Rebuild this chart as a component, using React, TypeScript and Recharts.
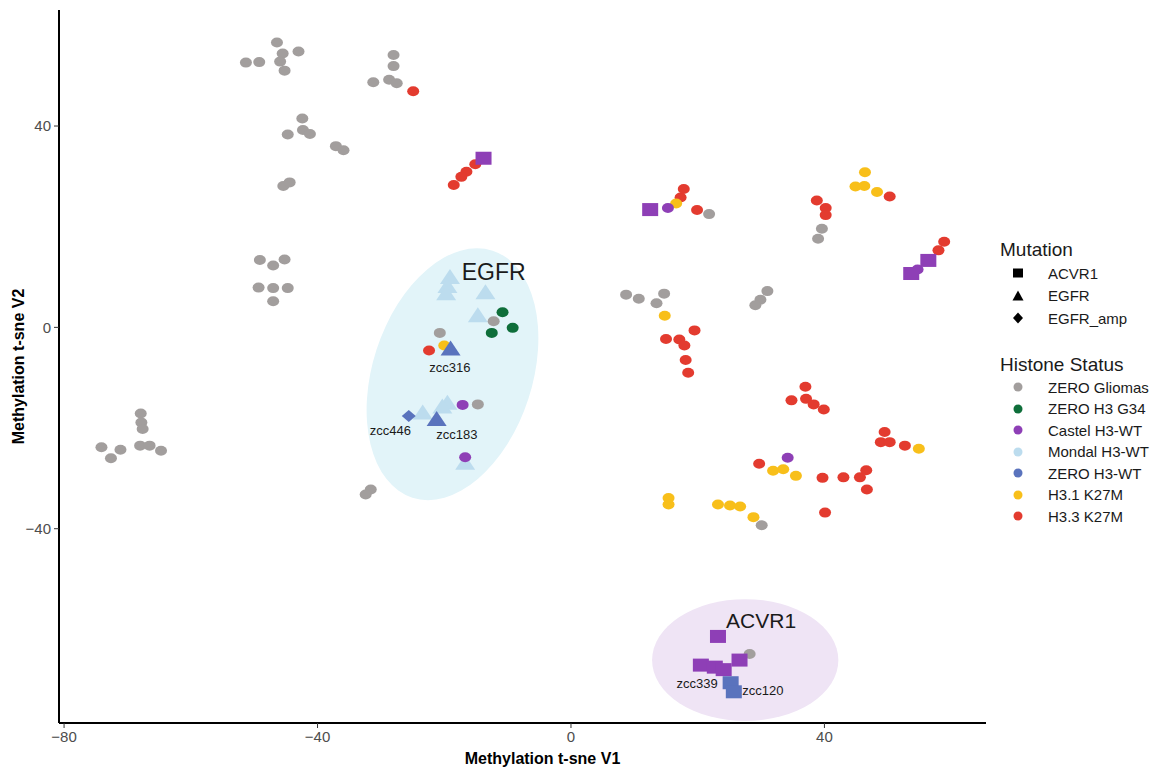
import { ScatterChart, Scatter, XAxis, YAxis } from "recharts"

if (typeof document !== "undefined") document.body.style.margin = "0"

const FONT = '"Liberation Sans", Arial, Helvetica, sans-serif'

// ─── axes ────────────────────────────────────────────────────────────────────
const X_DOMAIN = [-80.8, 65.5]
const Y_DOMAIN = [-78.6, 63.05]
const X_TICKS = [-80, -40, 0, 40]
const Y_TICKS = [-40, 0, 40]

// ─── data: [V1, V2] ─────────────────────────────────────────────────────────
const zeroGliomas = [
  [-46.4, 56.6], [-45.5, 54.4], [-43.0, 54.8], [-51.3, 52.6], [-49.2, 52.7], [-45.9, 52.8], [-45.2, 51.0],
  [-28.0, 54.1], [-28.0, 51.9], [-31.2, 48.7], [-28.7, 49.2], [-27.5, 48.5],
  [-42.4, 41.5], [-44.7, 38.3], [-42.3, 39.2], [-41.2, 38.4], [-37.1, 36.0], [-35.9, 35.2],
  [-45.4, 28.1], [-44.4, 28.8],
  [-49.1, 13.4], [-47.0, 12.3], [-45.2, 13.5], [-49.3, 7.9], [-47.0, 7.8], [-44.7, 7.8], [-47.0, 5.2],
  [-67.9, -17.1], [-67.8, -18.9], [-67.6, -20.2], [-74.1, -23.8], [-71.1, -24.3], [-72.6, -26.0],
  [-68.0, -23.5], [-66.5, -23.5], [-64.7, -24.5],
  [-12.2, 1.2], [-20.7, -1.1], [-14.7, -15.3], [-31.6, -32.2], [-32.4, -33.2],
  [21.8, 22.5], [39.6, 19.6], [39.0, 17.6], [8.7, 6.5], [10.7, 5.7], [14.7, 6.7], [13.5, 4.8],
  [31.0, 7.2], [29.9, 5.5], [29.1, 4.4], [30.1, -39.3], [28.2, -64.9],
]
const zeroG34 = [[-10.8, 3.0], [-12.5, -1.1], [-9.2, -0.1]]
const castelCircles = [[15.3, 23.7], [54.7, 11.5], [-17.1, -15.4], [-16.7, -25.8], [34.2, -25.9]]
const castelAcvr1 = [
  [-13.8, 33.6], [12.5, 23.4], [56.4, 13.3], [53.7, 10.7],
  [23.2, -61.4], [26.6, -66.1], [20.5, -67.1], [22.7, -67.5], [24.1, -68.0],
]
const mondalEgfr = [
  [-19.1, 9.8], [-19.5, 8.0], [-19.7, 6.6], [-13.5, 6.8], [-14.7, 2.2],
  [-19.5, -15.2], [-20.3, -15.9], [-23.4, -17.1], [-16.7, -27.1],
]
const zeroWtEgfr = [[-19.0, -4.4], [-21.2, -18.4]]
const zeroWtEgfrAmp = [[-25.6, -17.6]]
const zeroWtAcvr1 = [[25.2, -70.6], [25.7, -72.4]]
const h31 = [
  [-20.0, -3.6], [16.6, 24.6], [46.4, 30.8], [44.9, 28.0], [46.3, 28.1], [48.3, 26.9], [14.8, 2.3],
  [54.9, -24.1], [31.9, -28.5], [33.5, -28.2], [35.5, -29.5], [15.4, -33.9], [15.4, -35.2],
  [23.2, -35.2], [25.1, -35.4], [26.7, -35.6], [28.8, -37.7],
]
const h33 = [
  [-24.9, 46.9], [-15.1, 32.4], [-16.5, 30.9], [-17.3, 29.9], [-18.5, 28.3], [-22.4, -4.6],
  [17.3, 25.8], [17.8, 27.5], [19.9, 23.3], [50.3, 26.0], [38.8, 25.2], [40.2, 23.7], [40.2, 22.3],
  [58.9, 17.0], [58.0, 15.3], [19.5, -0.6], [15.0, -2.3], [17.1, -2.4], [17.9, -3.6], [18.1, -6.5],
  [18.5, -9.0], [37.0, -11.8], [34.8, -14.5], [37.1, -14.2], [38.3, -15.3], [39.9, -16.3],
  [49.5, -20.8], [48.9, -22.8], [50.3, -22.8], [52.7, -23.5], [29.7, -27.1], [39.7, -29.9],
  [43.0, -29.8], [45.6, -29.8], [46.6, -28.4], [46.7, -32.2], [40.1, -36.8],
]

// annotations (data units)
const sampleLabels = [
  { x: -19.1, y: -7.9, label: "zcc316", size: 13 },
  { x: -18.0, y: -21.2, label: "zcc183", size: 13 },
  { x: -28.5, y: -20.4, label: "zcc446", size: 13 },
  { x: 19.9, y: -70.7, label: "zcc339", size: 13 },
  { x: 30.3, y: -72.1, label: "zcc120", size: 13 },
]
const groupLabels = [
  { x: -12.2, y: 11.0, label: "EGFR", size: 23 },
  { x: 30.0, y: -58.3, label: "ACVR1", size: 21 },
]
const clusterEllipses = [
  { x: -18.7, y: -9.3, rx: 12.6, ry: 25.8, angle: 18, fill: "#e2f4f9" },
  { x: 27.5, y: -66.1, rx: 14.7, ry: 12.1, angle: 0, fill: "#efe4f5" },
]

const COLORS = {
  gray: "#a29e9d",
  green: "#0e6e3a",
  purple: "#8e3fb6",
  light: "#bcdcee",
  blue: "#5a73bd",
  yellow: "#f8bf1a",
  red: "#e33b2f",
}

// chart geometry
const W = 1160
const H = 767
const MARGIN = { top: 10, right: 174, bottom: 0, left: 0 }
const Y_AXIS_W = 59
const X_AXIS_H = 44
const PLOT_W = W - MARGIN.right - Y_AXIS_W
const PLOT_H = H - MARGIN.top - X_AXIS_H
const PX_X = PLOT_W / (X_DOMAIN[1] - X_DOMAIN[0])
const PX_Y = PLOT_H / (Y_DOMAIN[1] - Y_DOMAIN[0])

const toPts = (arr: number[][]) => arr.map(([x, y]) => ({ x, y }))

const circle = (fill: string) => (p: any) => (
  <ellipse cx={p.cx} cy={p.cy} rx={6} ry={5} fill={fill} />
)
const square = (fill: string) => (p: any) => (
  <rect x={p.cx - 8} y={p.cy - 6.5} width={16} height={13} fill={fill} />
)
const triangle = (fill: string) => (p: any) => (
  <polygon
    points={`${p.cx},${p.cy - 9} ${p.cx + 10},${p.cy + 6} ${p.cx - 10},${p.cy + 6}`}
    fill={fill}
  />
)
const diamond = (fill: string) => (p: any) => (
  <polygon
    points={`${p.cx},${p.cy - 6} ${p.cx + 7},${p.cy} ${p.cx},${p.cy + 6} ${p.cx - 7},${p.cy}`}
    fill={fill}
  />
)

const ellipseShape = (p: any) => {
  const e = p.payload
  return (
    <ellipse
      cx={p.cx}
      cy={p.cy}
      rx={e.rx * PX_X}
      ry={e.ry * PX_Y}
      fill={e.fill}
      transform={`rotate(${e.angle} ${p.cx} ${p.cy})`}
    />
  )
}

const textShape = (p: any) => (
  <text
    x={p.cx}
    y={p.cy}
    textAnchor="middle"
    dominantBaseline="central"
    fontSize={p.payload.size}
    fontFamily={FONT}
    fill="#1a1a1a"
  >
    {p.payload.label}
  </text>
)

const fmtTick = (v: number) => (v < 0 ? `\u2212${Math.abs(v)}` : `${v}`)

const TICK_STYLE = { fontSize: 15, fill: "#4d4d4d", fontFamily: FONT }

// ─── legend ──────────────────────────────────────────────────────────────────
const MUTATIONS = [
  { name: "ACVR1", shape: "square" },
  { name: "EGFR", shape: "triangle" },
  { name: "EGFR_amp", shape: "diamond" },
]
const HISTONE = [
  { name: "ZERO Gliomas", color: COLORS.gray },
  { name: "ZERO H3 G34", color: COLORS.green },
  { name: "Castel H3-WT", color: COLORS.purple },
  { name: "Mondal H3-WT", color: COLORS.light },
  { name: "ZERO H3-WT", color: COLORS.blue },
  { name: "H3.1 K27M", color: COLORS.yellow },
  { name: "H3.3 K27M", color: COLORS.red },
]

function LegendIcon({ shape, color }: { shape: string; color: string }) {
  return (
    <svg width={14} height={14} style={{ display: "block" }}>
      {shape === "square" && <rect x={2} y={2.5} width={10} height={9} fill={color} />}
      {shape === "triangle" && <polygon points="7,1.5 12.5,11.5 1.5,11.5" fill={color} />}
      {shape === "diamond" && <polygon points="7,1.5 12,7 7,12.5 2,7" fill={color} />}
      {shape === "circle" && <circle cx={7} cy={7} r={4.5} fill={color} />}
    </svg>
  )
}

function SideLegend() {
  const row = (h: number) => ({
    height: h,
    display: "flex",
    alignItems: "center",
    fontSize: 15,
    color: "#1a1a1a",
  })
  const title = { height: 24, lineHeight: "24px", fontSize: 19, color: "#1a1a1a" }
  return (
    <div style={{ position: "absolute", left: 1000, top: 238, fontFamily: FONT }}>
      <div style={title}>Mutation</div>
      {MUTATIONS.map((m) => (
        <div key={m.name} style={row(22.5)}>
          <div style={{ width: 37, paddingLeft: 11 }}>
            <LegendIcon shape={m.shape} color="#000" />
          </div>
          {m.name}
        </div>
      ))}
      <div style={{ ...title, marginTop: 23 }}>Histone Status</div>
      {HISTONE.map((h) => (
        <div key={h.name} style={row(21.5)}>
          <div style={{ width: 37, paddingLeft: 11 }}>
            <LegendIcon shape="circle" color={h.color} />
          </div>
          {h.name}
        </div>
      ))}
    </div>
  )
}

export default function App() {
  return (
    <div style={{ position: "relative", width: W, height: H, background: "#fff" }}>
      <ScatterChart width={W} height={H} margin={MARGIN}>
        <XAxis
          type="number"
          dataKey="x"
          domain={X_DOMAIN}
          ticks={X_TICKS}
          allowDataOverflow
          height={X_AXIS_H}
          tickFormatter={fmtTick}
          tick={TICK_STYLE}
          tickSize={5}
          tickMargin={3}
          axisLine={{ stroke: "#000", strokeWidth: 2 }}
          tickLine={{ stroke: "#333" }}
          label={{
            content: (props: any) => {
              const vb = props.viewBox
              return (
                <text
                  x={vb.x + vb.width / 2 + 20}
                  y={vb.y + 35}
                  textAnchor="middle"
                  dominantBaseline="central"
                  fontSize={16}
                  fontWeight="bold"
                  fontFamily={FONT}
                  fill="#000"
                >
                  Methylation t-sne V1
                </text>
              )
            },
          }}
        />
        <YAxis
          type="number"
          dataKey="y"
          domain={Y_DOMAIN}
          ticks={Y_TICKS}
          allowDataOverflow
          width={Y_AXIS_W}
          tickFormatter={fmtTick}
          tick={TICK_STYLE}
          tickSize={5}
          tickMargin={3}
          axisLine={{ stroke: "#000", strokeWidth: 2 }}
          tickLine={{ stroke: "#333" }}
          label={{
            content: (props: any) => {
              const vb = props.viewBox
              const cx = 18
              const cy = vb.y + vb.height / 2
              return (
                <text
                  x={cx}
                  y={cy}
                  transform={`rotate(-90 ${cx} ${cy})`}
                  textAnchor="middle"
                  dominantBaseline="central"
                  fontSize={16}
                  fontWeight="bold"
                  fontFamily={FONT}
                  fill="#000"
                >
                  Methylation t-sne V2
                </text>
              )
            },
          }}
        />
        <Scatter data={clusterEllipses} shape={ellipseShape} isAnimationActive={false} />
        <Scatter data={toPts(mondalEgfr)} shape={triangle(COLORS.light)} isAnimationActive={false} />
        <Scatter data={toPts(zeroGliomas)} shape={circle(COLORS.gray)} isAnimationActive={false} />
        <Scatter data={toPts(zeroG34)} shape={circle(COLORS.green)} isAnimationActive={false} />
        <Scatter data={toPts(h33)} shape={circle(COLORS.red)} isAnimationActive={false} />
        <Scatter data={toPts(h31)} shape={circle(COLORS.yellow)} isAnimationActive={false} />
        <Scatter data={toPts(castelCircles)} shape={circle(COLORS.purple)} isAnimationActive={false} />
        <Scatter data={toPts(castelAcvr1)} shape={square(COLORS.purple)} isAnimationActive={false} />
        <Scatter data={toPts(zeroWtAcvr1)} shape={square(COLORS.blue)} isAnimationActive={false} />
        <Scatter data={toPts(zeroWtEgfr)} shape={triangle(COLORS.blue)} isAnimationActive={false} />
        <Scatter data={toPts(zeroWtEgfrAmp)} shape={diamond(COLORS.blue)} isAnimationActive={false} />
        <Scatter data={sampleLabels} shape={textShape} isAnimationActive={false} />
        <Scatter data={groupLabels} shape={textShape} isAnimationActive={false} />
      </ScatterChart>
      <SideLegend />
    </div>
  )
}
